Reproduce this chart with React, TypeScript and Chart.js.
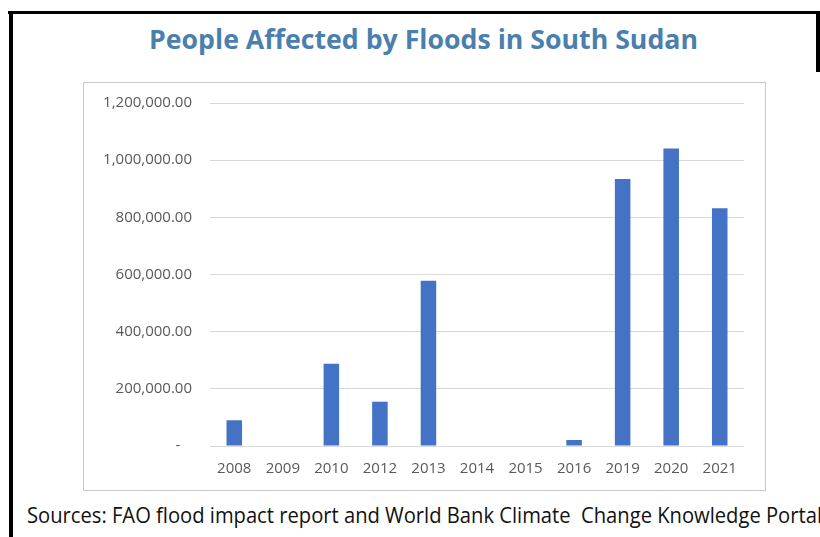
import React, { useEffect, useLayoutEffect, useRef } from "react";
import { Chart, registerables } from "chart.js";

Chart.register(...registerables);

const titleText = "People Affected by Floods in South Sudan";
const sourceText =
  "Sources: FAO flood impact report and World Bank Climate  Change Knowledge Portal";

const years = ["2008", "2009", "2010", "2012", "2013", "2014", "2015", "2016", "2019", "2020", "2021"];
const affected = [90000, 0, 288000, 155000, 578000, 0, 0, 21000, 934000, 1041000, 832000];

const yMin = 0;
const yMax = 1200000;
const yStep = 200000;

const fmt = (v: number) =>
  v === 0
    ? "-   "
    : v.toLocaleString("en-US", { minimumFractionDigits: 2, maximumFractionDigits: 2 });

export default function App() {
  const canvasRef = useRef<HTMLCanvasElement | null>(null);
  const titleRef = useRef<HTMLSpanElement | null>(null);
  const sourceRef = useRef<HTMLSpanElement | null>(null);

  useLayoutEffect(() => {
    document.body.style.margin = "0";
    const fit = (el: HTMLSpanElement | null, target: number) => {
      if (!el) return;
      el.style.transform = "none";
      const w = el.getBoundingClientRect().width;
      if (w > 0) el.style.transform = `scaleX(${target / w})`;
    };
    fit(titleRef.current, 549);
    fit(sourceRef.current, 795);
  }, []);

  useEffect(() => {
    if (!canvasRef.current) return;
    const chart = new Chart(canvasRef.current, {
      type: "bar",
      data: {
        labels: years,
        datasets: [
          {
            data: affected,
            backgroundColor: "#4472C4",
            barPercentage: 0.32,
            categoryPercentage: 1,
          },
        ],
      },
      options: {
        responsive: false,
        animation: false,
        layout: { padding: { top: 20, right: 21, left: 0, bottom: 0 } },
        plugins: {
          legend: { display: false },
          tooltip: { enabled: false },
          title: { display: false },
        },
        scales: {
          x: {
            grid: { display: false, drawTicks: false },
            border: { display: false },
            ticks: {
              color: "#595959",
              font: { family: "'Open Sans'", size: 15 },
              padding: 14,
              maxRotation: 0,
              autoSkip: false,
            },
            afterFit: (scale: any) => {
              scale.height = 44;
              scale.paddingLeft = 0;
              scale.paddingRight = 0;
            },
          },
          y: {
            min: yMin,
            max: yMax,
            grid: { color: "#d9d9d9", lineWidth: 1, drawTicks: false },
            border: { display: false },
            ticks: {
              stepSize: yStep,
              color: "#595959",
              font: { family: "'Open Sans'", size: 15 },
              padding: 18,
              callback: (v: any) => fmt(Number(v)),
            },
            afterFit: (scale: any) => {
              scale.width = 126;
              scale.paddingTop = 0;
              scale.paddingBottom = 0;
            },
          },
        },
      },
    });
    return () => chart.destroy();
  }, []);

  return (
    <div
      style={{
        position: "fixed",
        left: 0,
        top: 0,
        width: 820,
        height: 537,
        background: "#ffffff",
        overflow: "hidden",
      }}
    >
      <div style={{ position: "absolute", left: 8, top: 11, width: 830, height: 3, background: "#000" }} />
      <div style={{ position: "absolute", left: 9, top: 11, width: 4, height: 530, background: "#000" }} />
      <div style={{ position: "absolute", left: 816, top: 11, width: 4, height: 61, background: "#000" }} />
      <span
        ref={titleRef}
        style={{
          position: "absolute",
          left: 149,
          top: 25.5,
          whiteSpace: "nowrap",
          fontFamily: "'Open Sans'",
          fontWeight: 700,
          fontSize: 26.5,
          lineHeight: 1,
          color: "#4a7fae",
          transformOrigin: "0 0",
        }}
      >
        {titleText}
      </span>
      <div
        style={{
          position: "absolute",
          left: 83,
          top: 82,
          width: 681,
          height: 407,
          border: "1px solid #c8c8c8",
        }}
      >
        <canvas ref={canvasRef} width={681} height={407} style={{ display: "block" }} />
      </div>
      <span
        ref={sourceRef}
        style={{
          position: "absolute",
          left: 27,
          top: 504.5,
          whiteSpace: "pre",
          fontFamily: "'Open Sans'",
          fontSize: 21,
          lineHeight: 1,
          color: "#111",
          transformOrigin: "0 0",
        }}
      >
        {sourceText}
      </span>
    </div>
  );
}
